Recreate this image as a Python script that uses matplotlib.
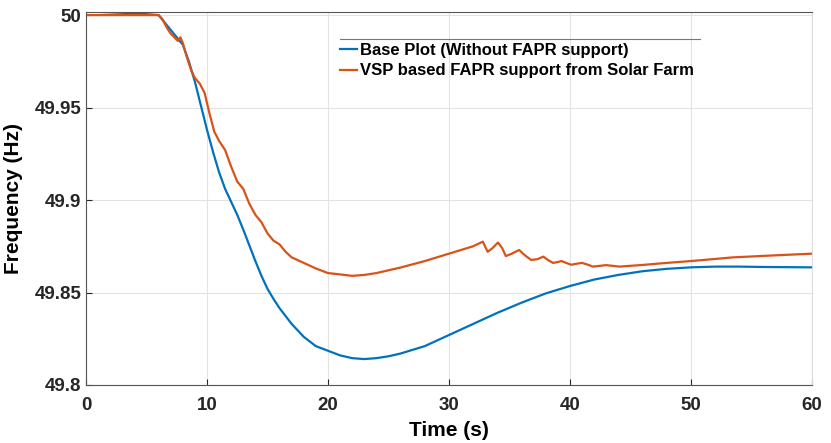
import matplotlib
matplotlib.use("Agg")
import matplotlib.pyplot as plt
from matplotlib.lines import Line2D

# Base plot (without FAPR support)
t_base = [0, 2, 4, 6, 6.5, 7, 7.5, 8, 8.5, 9, 9.5, 10, 10.5, 11, 11.5, 12, 12.5, 13, 13.5, 14,
          14.5, 15, 15.5, 16, 17, 18, 19, 20, 21, 22, 23, 24, 25, 26, 28, 30, 32, 34, 36, 38,
          40, 42, 44, 46, 48, 50, 52, 54, 56, 58, 60]
f_base = [50.002, 50.0015, 50.001, 50.0, 49.996, 49.992, 49.988, 49.984, 49.975, 49.964,
          49.951, 49.938, 49.926, 49.915, 49.906, 49.899, 49.892, 49.884, 49.8755, 49.867,
          49.859, 49.852, 49.8465, 49.8415, 49.833, 49.826, 49.821, 49.8185, 49.816, 49.8145,
          49.814, 49.8145, 49.8155, 49.817, 49.821, 49.827, 49.833, 49.839, 49.8445, 49.8495,
          49.8535, 49.857, 49.8595, 49.8615, 49.8628, 49.8636, 49.864, 49.864, 49.8638,
          49.8637, 49.8636]

# VSP based FAPR support from solar farm
t_vsp = [0, 2, 4, 6, 6.3, 6.7, 7, 7.3, 7.6, 7.8, 8.0, 8.3, 8.7, 9, 9.4, 9.8, 10.2, 10.6, 11,
         11.5, 12, 12.5, 13, 13.5, 14, 14.5, 15, 15.5, 16, 16.5, 17, 18, 19, 20, 21, 22, 23,
         24, 25, 26, 28, 30, 32, 32.8, 33.2, 33.6, 34.05, 34.4, 34.7, 35.2, 35.8, 36.3, 36.8,
         37.3, 37.8, 38.2, 38.6, 39.0, 39.3, 39.7, 40.1, 40.5, 41, 41.5, 41.9, 43, 44.1, 45.8,
         48, 50, 53.5, 56, 60]
f_vsp = [50.0, 50.0, 50.0, 50.0, 49.998, 49.993, 49.990, 49.988, 49.986, 49.988, 49.985,
         49.978, 49.970, 49.966, 49.963, 49.958, 49.947, 49.937, 49.932, 49.927, 49.918,
         49.910, 49.906, 49.898, 49.892, 49.888, 49.882, 49.878, 49.876, 49.872, 49.869,
         49.866, 49.863, 49.8605, 49.8598, 49.859, 49.8595, 49.8605, 49.862, 49.8635, 49.867,
         49.871, 49.875, 49.8775, 49.872, 49.874, 49.877, 49.874, 49.8697, 49.871, 49.873,
         49.870, 49.8676, 49.868, 49.8694, 49.8675, 49.866, 49.8665, 49.867, 49.866, 49.865,
         49.8655, 49.866, 49.865, 49.864, 49.8648, 49.864, 49.8648, 49.866, 49.867, 49.869,
         49.8698, 49.871]

labels = ["Base Plot (Without FAPR support)", "VSP based FAPR support from Solar Farm"]
xticks = [0, 10, 20, 30, 40, 50, 60]
yticks = [49.8, 49.85, 49.9, 49.95, 50]
ytick_labels = ["49.8", "49.85", "49.9", "49.95", "50"]

plt.rcParams['font.family'] = ['Liberation Sans', 'DejaVu Sans']

fig = plt.figure(figsize=(8.31, 4.43), dpi=100)
ax = fig.add_axes([0.1035, 0.131, 0.8735, 0.842])

ax.plot(t_base, f_base, color='#0072BD', lw=1.6, label=labels[0])
ax.plot(t_vsp, f_vsp, color='#D95319', lw=1.6, label=labels[1])

ax.set_xlim(0, 60)
ax.set_ylim(49.8, 50.0017)
ax.set_xticks(xticks)
ax.set_yticks(yticks)
ax.set_yticklabels(ytick_labels)
ax.grid(True, color='#e3e3e3', lw=0.8)
ax.tick_params(direction='in', length=4, labelsize=13.5, width=0.8, colors='#262626')
ax.tick_params(axis='x', pad=9)
for lab in ax.get_xticklabels() + ax.get_yticklabels():
    lab.set_fontweight('bold')
for s in ax.spines.values():
    s.set_color('#555555')
    s.set_linewidth(0.8)
ax.spines['right'].set_color('#dddddd')

ax.set_xlabel("Time (s)", fontsize=15, fontweight='bold', labelpad=5)
ax.set_ylabel("Frequency (Hz)", fontsize=15, fontweight='bold', labelpad=8)

leg = ax.legend(loc='upper left', bbox_to_anchor=(0.35, 0.918), frameon=False,
                prop={'weight': 'bold', 'size': 12}, borderpad=0,
                handlelength=1.0, handletextpad=0.2, labelspacing=0.35, borderaxespad=0)
ax.add_line(Line2D([0.35, 0.846], [0.928, 0.928], transform=ax.transAxes, color='#777777', lw=0.8))

fig.savefig("out.png", dpi=100)
